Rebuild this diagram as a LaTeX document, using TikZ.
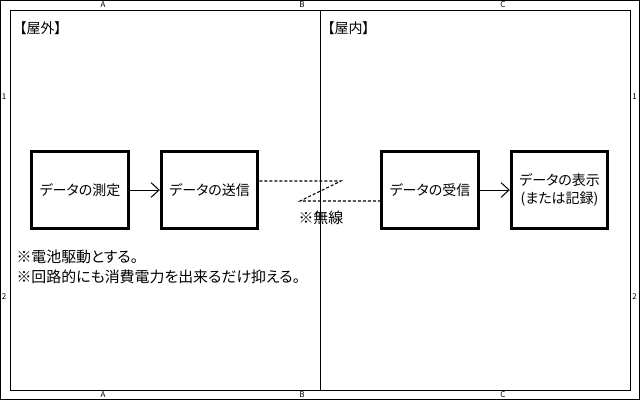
\documentclass[tikz,border=0pt]{standalone}
\usepackage{fontspec}
\newfontfamily\jpfont[RawFeature=+palt]{Noto Sans CJK JP}
\usetikzlibrary{shapes,arrows.meta,positioning}
\tikzstyle{blk} = [draw, line width=2.2pt, minimum width=72.5pt, minimum height=57.5pt, align=center, inner sep=1pt, font=\jpfont\fontsize{10.5}{13}\selectfont]
\tikzstyle{txt} = [inner sep=0pt, font=\jpfont\fontsize{10.5}{15}\selectfont]
\tikzstyle{note} = [inner sep=0pt, font=\jpfont\fontsize{11.2}{15}\selectfont]
\tikzstyle{rulerlbl} = [inner sep=0pt, font=\jpfont\fontsize{6}{7}\selectfont]
\tikzstyle{wire} = [dash pattern=on 2.25pt off 1.5pt, line width=0.8pt]

\begin{document}
\begin{tikzpicture}[x=0.75pt,y=-0.75pt,>={Straight Barb[length=6pt,width=11pt]},line width=0.75pt,node distance=22.5pt]
\useasboundingbox (0,0) rectangle (640,400);
\draw (0.5,0.5) rectangle (639.5,399.5);
\draw (10,10) rectangle (630,390);
\draw (320,10) -- (320,390);

% rulers
\foreach \c/\x in {A/103,B/302,C/503} {
  \node[rulerlbl] at (\x,4.5) {\c};
  \node[rulerlbl] at (\x,394.5) {\c};
}
\foreach \r/\y in {1/97,2/297} {
  \node[rulerlbl] at (4,\y) {\r};
  \node[rulerlbl] at (634.5,\y) {\r};
}

\node[txt, anchor=west] (out) at (19,28) {【屋外】};
\node[txt, anchor=west] (in) at (327,28) {【屋内】};

\node[blk] (meas) at (80,190) {データの測定};
\node[blk, right=of meas] (snd) {データの送信};
\node[blk] (rcv) at (430,190) {データの受信};
\node[blk, right=of rcv] (disp) {データの表示\\(または記録)};

\coordinate (w1) at (341,181);
\coordinate (w2) at (300,201);
\draw[wire] (snd.east |- w1) -- (w1) -- (w2) -- (rcv.west |- w2);
\node[note, anchor=west] (air) at (298,218) {※無線};

\path[->]
(meas) edge node {} (snd)
(rcv) edge node {} (disp);

\node[note, anchor=north west, align=left] (memo) at (16,249) {※電池駆動とする。\\※回路的にも消費電力を出来るだけ抑える。};

\end{tikzpicture}
\end{document}
